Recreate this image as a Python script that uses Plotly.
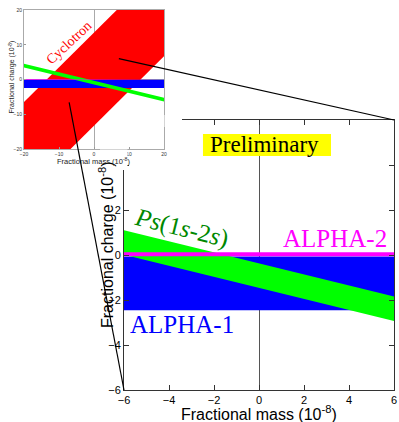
import plotly.graph_objects as go

W, H = 399, 422

# ---- data ----
mass_x = [-20, 20]
alpha1_lo = [-2.45, -2.45]
alpha1_hi = [-0.07, -0.07]
alpha2_lo = [-0.05, -0.05]
alpha2_hi = [0.12, 0.12]
ps_upper = [4.53, -5.27]
ps_lower = [3.44, -6.36]
cyc_upper = [-6.5, 33.5]
cyc_lower = [-33.3, 6.7]

main_ticks_x = [-6, -4, -2, 0, 2, 4, 6]
main_ticks_y = [-6, -4, -2, 0, 2, 4]
inset_ticks = [-20, -10, 0, 10, 20]

# zoom connector points (inset data -> main data)
inset_pts = [(7.1, 6.0), (-7.1, -6.6)]
main_pts = [(6, 6), (-6, -6)]

RED, GREEN, BLUE, MAG = "#ff0000", "#00ff00", "#0000ff", "#ff00ff"
SERIF = "Liberation Serif"
SANS = "Liberation Sans"


def px(x):
    return x / W


def py(y):
    return 1 - y / H


main_dx = [px(124), px(394)]
main_dy = [py(390), py(120)]
ins_dx = [px(24), px(164)]
ins_dy = [py(149), py(10)]


def band(lo, hi, color, xa, ya):
    return go.Scatter(
        x=mass_x + mass_x[::-1], y=hi + lo[::-1], fill="toself",
        fillcolor=color, line=dict(width=0), mode="lines",
        xaxis=xa, yaxis=ya, hoverinfo="skip", showlegend=False)


fig = go.Figure()
# main
fig.add_trace(band(alpha1_lo, alpha1_hi, BLUE, "x", "y"))
fig.add_trace(band(ps_lower, ps_upper, GREEN, "x", "y"))
fig.add_trace(band(alpha2_lo, alpha2_hi, MAG, "x", "y"))
# inset
fig.add_trace(band(cyc_lower, cyc_upper, RED, "x2", "y2"))
fig.add_trace(band(alpha1_lo, alpha1_hi, BLUE, "x2", "y2"))
fig.add_trace(band(ps_lower, ps_upper, GREEN, "x2", "y2"))
fig.add_trace(band(alpha2_lo, alpha2_hi, MAG, "x2", "y2"))

main_ax = dict(ticks="inside", ticklen=5, tickcolor="#333", showline=True,
               linecolor="#333", linewidth=1, mirror="ticks", showgrid=False,
               zeroline=True, zerolinecolor="#555", zerolinewidth=1, automargin=False,
               tickfont=dict(family=SANS, size=11, color="black"))
ins_ax = dict(ticks="inside", ticklen=2, tickcolor="#999", showline=True,
              linecolor="#aaa", linewidth=1, mirror=True, showgrid=False,
              zeroline=True, zerolinecolor="#aaa", zerolinewidth=1, automargin=False,
              tickfont=dict(family=SANS, size=5, color="#333"))

fig.update_layout(
    width=W, height=H, margin=dict(l=0, r=0, t=0, b=0),
    paper_bgcolor="white", plot_bgcolor="white", showlegend=False,
    xaxis=dict(domain=main_dx, range=[-6, 6], tickvals=main_ticks_x, anchor="y", **main_ax),
    yaxis=dict(domain=main_dy, range=[-6, 6], tickvals=main_ticks_y, anchor="x", **main_ax),
    xaxis2=dict(domain=ins_dx, range=[-20, 20], tickvals=inset_ticks, anchor="y2", **ins_ax),
    yaxis2=dict(domain=ins_dy, range=[-20, 20], tickvals=inset_ticks, anchor="x2", **ins_ax),
)


def ins2paper(x, y):
    fx = ins_dx[0] + (x + 20) / 40 * (ins_dx[1] - ins_dx[0])
    fy = ins_dy[0] + (y + 20) / 40 * (ins_dy[1] - ins_dy[0])
    return fx, fy


def main2paper(x, y):
    fx = main_dx[0] + (x + 6) / 12 * (main_dx[1] - main_dx[0])
    fy = main_dy[0] + (y + 6) / 12 * (main_dy[1] - main_dy[0])
    return fx, fy


shapes = [
    # yellow box behind "Preliminary"
    dict(type="rect", xref="x", yref="y", x0=-2.49, x1=3.2, y0=4.4, y1=5.38,
         fillcolor="#ffff00", line=dict(width=0), layer="above"),
    # white covers hiding the main frame behind the inset block
    dict(type="rect", xref="paper", yref="paper", x0=px(164.5), x1=px(182),
         y0=py(127), y1=py(115), fillcolor="white", line=dict(width=0), layer="above"),
    dict(type="rect", xref="paper", yref="paper", x0=px(100), x1=px(127.5),
         y0=py(170), y1=py(149.5), fillcolor="white", line=dict(width=0), layer="above"),
]
for (ix, iy), (mx, my) in zip(inset_pts, main_pts):
    x0, y0 = ins2paper(ix, iy)
    x1, y1 = main2paper(mx, my)
    shapes.append(dict(type="line", xref="paper", yref="paper", x0=x0, y0=y0,
                       x1=x1, y1=y1, line=dict(color="black", width=1.2), layer="above"))
fig.update_layout(shapes=shapes)

C = dict(showarrow=False, xanchor="center", yanchor="middle")
ann = [
    dict(text="Preliminary", x=0.24, y=4.9, xref="x", yref="y",
         font=dict(family=SERIF, size=23, color="black"), **C),
    dict(text="ALPHA-2", x=3.38, y=0.72, xref="x", yref="y",
         font=dict(family=SERIF, size=25, color=MAG), **C),
    dict(text="ALPHA-1", x=-3.44, y=-3.07, xref="x", yref="y",
         font=dict(family=SERIF, size=25, color=BLUE), **C),
    dict(text="<i>Ps</i>(1<i>s</i>-2<i>s</i>)", x=-3.44, y=1.22, xref="x", yref="y",
         textangle=14, font=dict(family=SERIF, size=25, color="#008800"), **C),
    dict(text="Cyclotron", x=-7.1, y=10.6, xref="x2", yref="y2",
         textangle=-43, font=dict(family=SERIF, size=14, color=RED), **C),
    # axis titles
    dict(text="Fractional mass (10<sup>-8</sup>)", x=px(259), y=py(413), xref="paper",
         yref="paper", font=dict(family=SANS, size=16, color="black"), **C),
    dict(text="Fractional charge (10<sup>-8</sup>)", x=px(106), y=py(245), xref="paper",
         yref="paper", textangle=-90,
         font=dict(family=SANS, size=16, color="black"), **C),
    dict(text="Fractional mass (10<sup>-8</sup>)", x=px(94), y=py(161), xref="paper",
         yref="paper", font=dict(family=SANS, size=7.5, color="#222"), **C),
    dict(text="Fractional charge (10<sup>-8</sup>)", x=px(12.5), y=py(77), xref="paper",
         yref="paper", textangle=-90,
         font=dict(family=SANS, size=7, color="#222"), **C),
]
fig.update_layout(annotations=ann)

fig.write_html(
    "out.html",
    config={"displayModeBar": False},
    post_script="document.body.style.margin='0';document.body.style.overflow='hidden';",
)
